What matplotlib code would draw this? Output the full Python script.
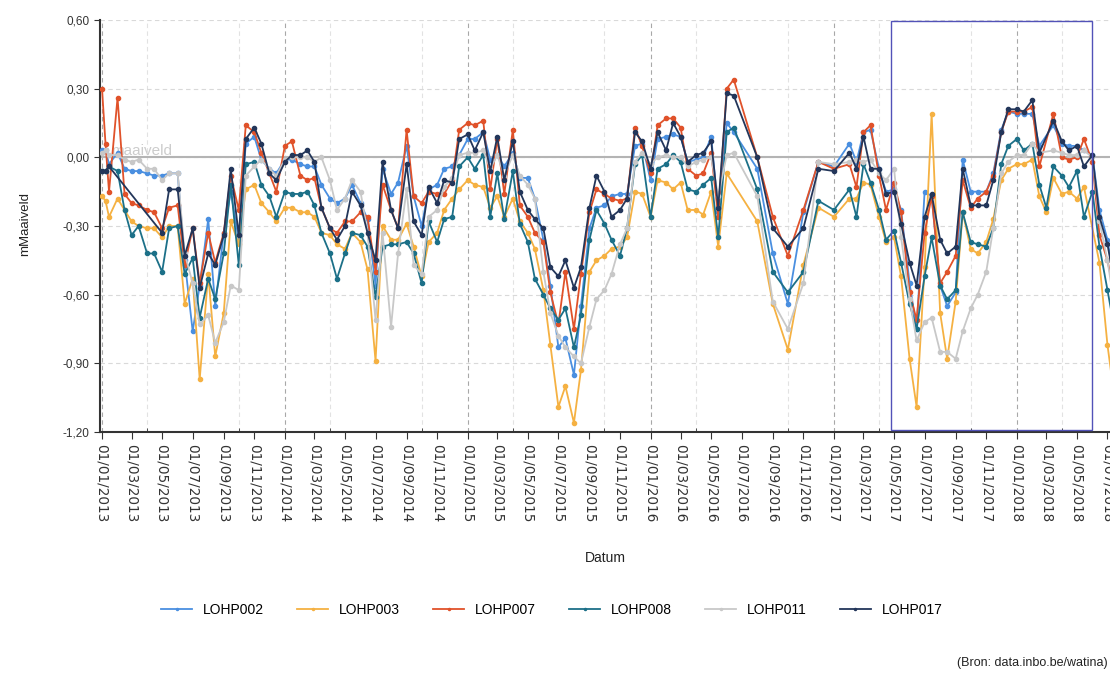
import matplotlib
matplotlib.use('Agg')
import matplotlib.pyplot as plt
import matplotlib.dates as mdates
import matplotlib.patches as mpatches
from matplotlib.ticker import FuncFormatter
import numpy as np
import pandas as pd

plt.rcParams['font.family'] = ['Liberation Sans', 'DejaVu Sans']

# meetdata: grondwaterstand t.o.v. maaiveld (m), halfmaandelijkse metingen
dates = [
    '2013-01-01', '2013-01-08', '2013-01-15', '2013-02-01', '2013-02-15', '2013-03-01', '2013-03-15',
    '2013-04-01', '2013-04-15', '2013-05-01', '2013-05-15', '2013-06-01', '2013-06-15', '2013-07-01',
    '2013-07-15', '2013-08-01', '2013-08-15', '2013-09-01', '2013-09-15', '2013-10-01', '2013-10-15',
    '2013-11-01', '2013-11-15', '2013-12-01', '2013-12-15',
    '2014-01-01', '2014-01-15', '2014-02-01', '2014-02-15', '2014-03-01', '2014-03-15', '2014-04-01',
    '2014-04-15', '2014-05-01', '2014-05-15', '2014-06-01', '2014-06-15', '2014-07-01', '2014-07-15',
    '2014-08-01', '2014-08-15', '2014-09-01', '2014-09-15', '2014-10-01', '2014-10-15', '2014-11-01',
    '2014-11-15', '2014-12-01', '2014-12-15',
    '2015-01-01', '2015-01-15', '2015-02-01', '2015-02-15', '2015-03-01', '2015-03-15', '2015-04-01',
    '2015-04-15', '2015-05-01', '2015-05-15', '2015-06-01', '2015-06-15', '2015-07-01', '2015-07-15',
    '2015-08-01', '2015-08-15', '2015-09-01', '2015-09-15', '2015-10-01', '2015-10-15', '2015-11-01',
    '2015-11-15', '2015-12-01', '2015-12-15',
    '2016-01-01', '2016-01-15', '2016-02-01', '2016-02-15', '2016-03-01', '2016-03-15', '2016-04-01',
    '2016-04-15', '2016-05-01', '2016-05-15', '2016-06-01', '2016-06-15', '2016-07-01', '2016-07-15',
    '2016-08-01', '2016-08-15', '2016-09-01', '2016-09-15', '2016-10-01', '2016-10-15', '2016-11-01',
    '2016-11-15', '2016-12-01', '2016-12-15',
    '2017-01-01', '2017-01-15', '2017-02-01', '2017-02-15', '2017-03-01', '2017-03-15', '2017-04-01',
    '2017-04-15', '2017-05-01', '2017-05-15', '2017-06-01', '2017-06-15', '2017-07-01', '2017-07-15',
    '2017-08-01', '2017-08-15', '2017-09-01', '2017-09-15', '2017-10-01', '2017-10-15', '2017-11-01',
    '2017-11-15', '2017-12-01', '2017-12-15',
    '2018-01-01', '2018-01-15', '2018-02-01', '2018-02-15', '2018-03-01', '2018-03-15', '2018-04-01',
    '2018-04-15', '2018-05-01', '2018-05-15', '2018-06-01', '2018-06-15', '2018-07-01', '2018-07-15',
]

LOHP002 = [
    0.03, 0.03, -0.03, 0.02, -0.05, -0.06, -0.06, -0.07, -0.08, -0.08, -0.07, -0.07, -0.45, -0.76, -0.56, -0.27, -0.65, -0.33, -0.15, -0.36, 0.06, 0.09, -0.01, -0.05, -0.07,
    -0.01, -0.01, -0.03, -0.04, -0.04, -0.12, -0.18, -0.20, -0.18, -0.12, -0.20, -0.27, -0.56, -0.05, -0.16, -0.11, 0.05, -0.17, -0.30, -0.14, -0.12, -0.05, -0.04, 0.01,
    0.08, 0.08, 0.11, -0.01, 0.01, -0.04, 0.02, -0.09, -0.09, -0.18, -0.36, -0.56, -0.83, -0.79, -0.95, -0.65, -0.31, -0.22, -0.21, -0.17, -0.16, -0.16, 0.05, 0.06,
    -0.10, 0.08, 0.09, 0.10, 0.09, -0.02, -0.01, 0.00, 0.09, -0.24, 0.15, 0.11, None, None, -0.05, None, -0.42, None, -0.64, None, -0.24, None, -0.02, None,
    -0.04, None, 0.06, -0.02, 0.11, 0.12, -0.05, -0.15, -0.14, -0.23, -0.55, -0.75, -0.15, -0.17, -0.56, -0.65, -0.59, -0.01, -0.15, -0.15, -0.15, -0.07, 0.12, 0.20,
    0.19, 0.19, 0.19, 0.05, None, 0.14, 0.06, 0.05, 0.05, 0.03, 0.01, -0.23, -0.36, -0.55,
]
LOHP003 = [
    -0.17, -0.19, -0.26, -0.18, -0.23, -0.28, -0.30, -0.31, -0.31, -0.35, -0.30, -0.30, -0.64, -0.53, -0.97, -0.51, -0.87, -0.68, -0.28, -0.38, -0.14, -0.12, -0.20, -0.24, -0.28,
    -0.22, -0.22, -0.24, -0.24, -0.26, -0.33, -0.34, -0.38, -0.40, -0.33, -0.37, -0.49, -0.89, -0.30, -0.36, -0.36, -0.29, -0.39, -0.52, -0.37, -0.33, -0.23, -0.18, -0.14,
    -0.10, -0.12, -0.13, -0.22, -0.17, -0.26, -0.18, -0.28, -0.33, -0.40, -0.58, -0.82, -1.09, -1.00, -1.16, -0.93, -0.50, -0.45, -0.43, -0.40, -0.39, -0.35, -0.15, -0.16,
    -0.26, -0.10, -0.11, -0.14, -0.11, -0.23, -0.23, -0.25, -0.15, -0.39, -0.07, None, None, None, -0.28, None, -0.64, None, -0.84, None, -0.47, None, -0.22, None,
    -0.26, None, -0.18, -0.18, -0.11, -0.12, -0.26, -0.37, -0.35, -0.52, -0.88, -1.09, -0.48, 0.19, -0.68, -0.88, -0.63, -0.24, -0.40, -0.42, -0.37, -0.27, -0.10, -0.05,
    -0.03, -0.03, -0.01, -0.17, -0.24, -0.09, -0.16, -0.15, -0.18, -0.13, None, -0.46, -0.82, -1.05,
]
LOHP007 = [
    0.30, 0.06, -0.15, 0.26, -0.16, -0.20, -0.21, -0.23, -0.24, -0.31, -0.22, -0.21, -0.47, -0.31, -0.55, -0.33, -0.46, -0.33, -0.08, -0.23, 0.14, 0.11, 0.02, -0.07, -0.15,
    0.05, 0.07, -0.08, -0.10, -0.09, -0.22, -0.31, -0.33, -0.28, -0.28, -0.24, -0.26, -0.50, -0.12, -0.23, -0.31, 0.12, -0.17, -0.20, -0.15, -0.16, -0.16, -0.10, 0.12,
    0.15, 0.14, 0.16, -0.14, 0.08, -0.16, 0.12, -0.21, -0.26, -0.33, -0.37, -0.59, -0.73, -0.50, -0.75, -0.51, -0.24, -0.14, -0.16, -0.18, -0.19, -0.18, 0.13, 0.05,
    -0.07, 0.14, 0.17, 0.17, 0.13, -0.05, -0.08, -0.07, 0.02, -0.26, 0.30, 0.34, None, None, 0.00, None, -0.26, None, -0.43, None, -0.23, None, -0.02, None,
    -0.05, None, -0.03, -0.13, 0.11, 0.14, -0.08, -0.23, -0.11, -0.24, -0.59, -0.71, -0.33, -0.17, -0.55, -0.50, -0.43, -0.10, -0.22, -0.18, -0.15, -0.08, 0.11, 0.20,
    0.20, 0.20, 0.22, -0.04, None, 0.19, 0.00, -0.01, 0.00, 0.08, -0.02, -0.34, -0.45, -0.60,
]
LOHP008 = [
    -0.06, -0.06, -0.04, -0.06, -0.23, -0.34, -0.30, -0.42, -0.42, -0.50, -0.31, -0.30, -0.51, -0.44, -0.70, -0.53, -0.62, -0.42, -0.12, -0.47, -0.03, -0.02, -0.12, -0.17, -0.26,
    -0.15, -0.16, -0.16, -0.15, -0.21, -0.33, -0.42, -0.53, -0.42, -0.33, -0.34, -0.39, -0.61, -0.39, -0.38, -0.38, -0.37, -0.42, -0.55, -0.28, -0.37, -0.27, -0.26, -0.04,
    0.00, -0.05, 0.01, -0.26, -0.07, -0.27, -0.06, -0.29, -0.37, -0.53, -0.60, -0.66, -0.71, -0.66, -0.83, -0.69, -0.36, -0.23, -0.29, -0.36, -0.43, -0.31, -0.03, 0.01,
    -0.26, -0.05, -0.03, 0.01, -0.02, -0.14, -0.15, -0.12, -0.09, -0.35, 0.11, 0.13, None, None, -0.14, None, -0.50, None, -0.59, None, -0.50, None, -0.19, None,
    -0.23, None, -0.14, -0.26, -0.03, -0.11, -0.23, -0.36, -0.32, -0.46, -0.64, -0.75, -0.52, -0.35, -0.56, -0.62, -0.58, -0.24, -0.37, -0.38, -0.39, -0.31, -0.03, 0.05,
    0.08, 0.03, 0.06, -0.12, -0.22, -0.04, -0.08, -0.13, -0.06, -0.26, -0.15, -0.39, -0.58, -0.75,
]
LOHP011 = [
    0.02, 0.03, 0.01, 0.01, -0.01, -0.02, -0.01, -0.05, -0.05, -0.10, -0.07, -0.07, -0.42, -0.55, -0.73, -0.69, -0.81, -0.72, -0.56, -0.58, -0.08, -0.04, -0.01, -0.05, -0.08,
    -0.01, 0.00, 0.00, 0.00, -0.02, 0.00, -0.10, -0.23, -0.18, -0.10, -0.15, -0.33, -0.71, -0.33, -0.74, -0.42, -0.14, -0.47, -0.51, -0.26, -0.23, -0.13, -0.09, 0.01,
    0.02, 0.02, 0.03, -0.05, 0.01, -0.08, 0.01, -0.08, -0.12, -0.18, -0.50, -0.68, -0.78, -0.83, -0.87, -0.90, -0.74, -0.62, -0.58, -0.51, -0.38, -0.31, -0.02, 0.02,
    -0.03, 0.00, 0.01, 0.00, 0.00, -0.04, -0.02, -0.01, 0.00, -0.17, 0.01, 0.02, None, None, -0.17, None, -0.63, None, -0.75, None, -0.55, None, -0.02, None,
    -0.03, None, -0.02, -0.01, -0.02, -0.01, -0.07, -0.10, -0.05, -0.35, -0.62, -0.80, -0.72, -0.70, -0.85, -0.85, -0.88, -0.76, -0.66, -0.60, -0.50, -0.31, -0.07, -0.02,
    0.01, 0.01, 0.06, 0.02, None, 0.03, 0.02, 0.01, 0.01, 0.03, 0.00, -0.28, -0.45, -0.65,
]
LOHP017 = [
    -0.06, -0.06, -0.04, None, None, None, None, None, None, -0.33, -0.14, -0.14, -0.43, -0.31, -0.57, -0.42, -0.47, -0.34, -0.05, -0.34, 0.08, 0.13, 0.06, -0.07, -0.10,
    -0.02, 0.01, 0.01, 0.03, -0.02, -0.22, -0.31, -0.36, -0.30, -0.15, -0.21, -0.33, -0.45, -0.02, -0.23, -0.31, -0.03, -0.28, -0.34, -0.13, -0.20, -0.10, -0.11, 0.08,
    0.10, 0.03, 0.11, -0.06, 0.09, -0.10, 0.07, -0.15, -0.23, -0.27, -0.31, -0.48, -0.52, -0.45, -0.57, -0.48, -0.22, -0.08, -0.15, -0.26, -0.23, -0.18, 0.11, 0.07,
    -0.05, 0.11, 0.03, 0.15, 0.09, -0.02, 0.01, 0.02, 0.07, -0.22, 0.28, 0.27, None, None, 0.00, None, -0.31, None, -0.39, None, -0.31, None, -0.05, None,
    -0.06, None, 0.02, -0.05, 0.09, -0.05, -0.05, -0.16, -0.15, -0.29, -0.46, -0.56, -0.26, -0.16, -0.36, -0.42, -0.39, -0.05, -0.21, -0.21, -0.21, -0.10, 0.11, 0.21,
    0.21, 0.20, 0.25, 0.02, None, 0.16, 0.07, 0.03, 0.05, -0.04, 0.01, -0.26, -0.38, -0.55,
]

names = ['LOHP002', 'LOHP003', 'LOHP007', 'LOHP008', 'LOHP011', 'LOHP017']
series = [LOHP002, LOHP003, LOHP007, LOHP008, LOHP011, LOHP017]
colors = ['#4a8fe0', '#f5b142', '#e0522a', '#1c7088', '#c8c8c8', '#23365a']

t = pd.to_datetime(dates).values

fig = plt.figure(figsize=(11.1, 6.73), dpi=100)
ax = fig.add_axes([100 / 1110, 1 - 432 / 673, 1023 / 1110, 412 / 673])

# nullijn = maaiveld
ax.axhline(0, color='#b4b4b4', lw=1.5, zorder=1.5)
ax.text(pd.Timestamp('2013-01-20'), 0.012, 'maaiveld', color='#cccccc', fontsize=11, zorder=1.2)

for name, vals, col in zip(names, series, colors):
    y = np.array([np.nan if v is None else v for v in vals], dtype=float)
    ok = ~np.isnan(y)
    ax.plot(t[ok], y[ok], color=col, lw=1.3, marker='o', ms=3, label=name, zorder=3)

# kader rond de laatste periode
x0 = mdates.date2num(pd.Timestamp('2017-04-25'))
x1 = mdates.date2num(pd.Timestamp('2018-05-31'))
ax.add_patch(mpatches.Rectangle((x0, -1.19), x1 - x0, 1.785, fill=False,
                                ec='#5252b8', lw=1.0, zorder=4))

ax.set_xlim(pd.Timestamp('2012-12-28'), pd.Timestamp('2018-08-01'))
ax.set_ylim(-1.20, 0.60)
ax.set_yticks([-1.20, -0.90, -0.60, -0.30, 0.00, 0.30, 0.60])
ax.yaxis.set_major_formatter(FuncFormatter(lambda v, p: f'{v:.2f}'.replace('.', ',')))

ax.xaxis.set_major_locator(mdates.MonthLocator(bymonth=[1, 3, 5, 7, 9, 11]))
ax.xaxis.set_major_formatter(mdates.DateFormatter('%d/%m/%Y'))
ax.xaxis.set_minor_locator(mdates.MonthLocator(bymonth=[1, 4, 7, 10]))
ax.tick_params(axis='x', which='major', rotation=270, labelsize=9.8, labelcolor='#333333',
               length=5, color='#333333', pad=4)
ax.tick_params(axis='x', which='minor', direction='in', length=3, color='#333333')
ax.tick_params(axis='y', labelsize=8.5, labelcolor='#333333', length=4, color='#333333')
for lab in ax.get_xticklabels():
    lab.set_va('top')
    lab.set_ha('center')
    lab.set_family('DejaVu Sans')

# rasterlijnen
ax.grid(axis='y', which='major', ls=(0, (4, 3)), color='#d9d9d9', lw=0.8)
ax.grid(axis='x', which='minor', ls=(0, (4, 3)), color='#e2e2e2', lw=0.8)
for yr in range(2013, 2019):
    ax.axvline(pd.Timestamp(f'{yr}-01-01'), ls=(0, (4, 3)), color='#a8a8a8', lw=0.8, zorder=0.5)
ax.set_axisbelow(True)

for s in ['top', 'right']:
    ax.spines[s].set_visible(False)
for s in ['left', 'bottom']:
    ax.spines[s].set_color('#333333')
    ax.spines[s].set_linewidth(1.5)

fig.text(25 / 1110, 1 - 224 / 673, 'mMaaiveld', rotation=90, fontsize=9.5,
         ha='center', va='center', color='#222222')
fig.text(605 / 1110, 1 - 558 / 673, 'Datum', fontsize=10, ha='center', va='center',
         color='#222222')

handles, labels = ax.get_legend_handles_labels()
fig.legend(handles, labels, loc='center', bbox_to_anchor=(552 / 1110, 1 - 610 / 673),
           ncol=6, frameon=False, fontsize=10, handlelength=2.2, columnspacing=2.4,
           markerscale=0.5)

fig.text(1108 / 1110, 1 - 663 / 673, '(Bron: data.inbo.be/watina)', ha='right',
         va='center', fontsize=9, color='#222222')

fig.savefig('out.png', dpi=100)
